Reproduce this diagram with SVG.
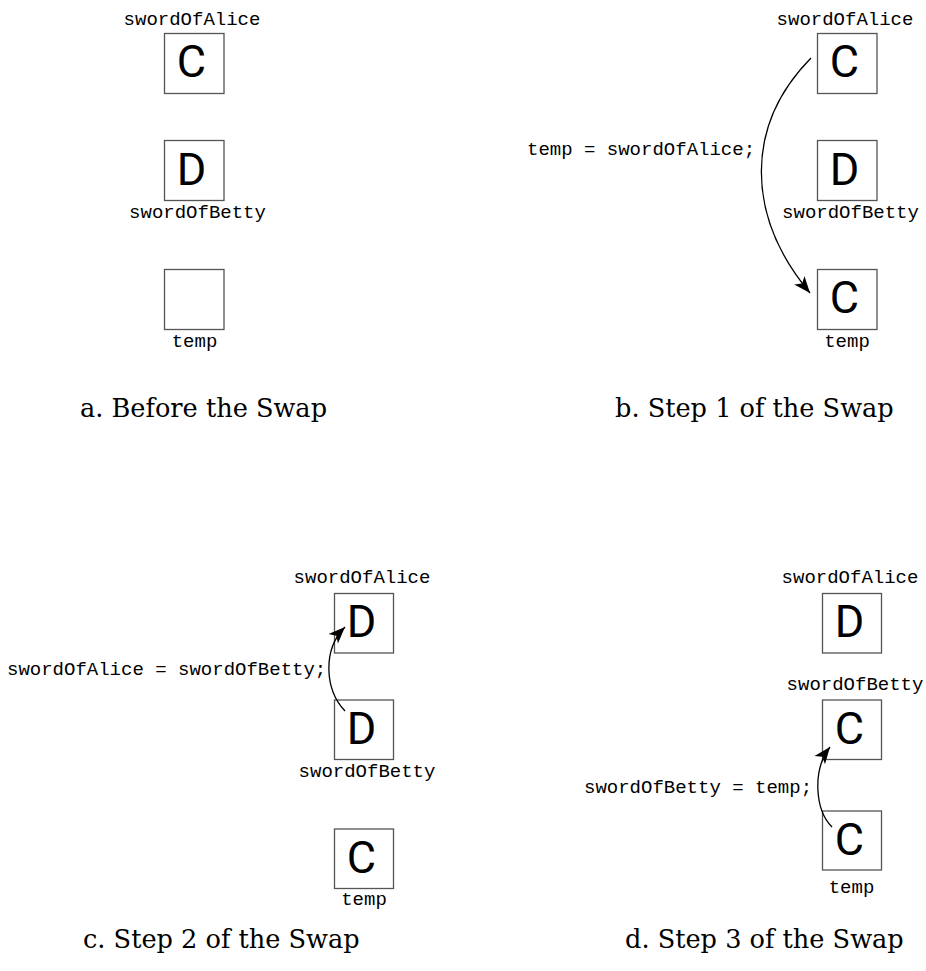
<svg xmlns="http://www.w3.org/2000/svg" width="926" height="971" viewBox="0 0 926 971">
<style>
.box{fill:#fff;stroke:#555;stroke-width:1.3}
.val{font-family:Roboto,"DejaVu Sans",sans-serif;font-size:45px;fill:#000;text-anchor:middle}
.lbl{font-family:"Liberation Mono",monospace;font-size:19px;fill:#000;text-anchor:middle}
.code{font-family:"Liberation Mono",monospace;font-size:19px;fill:#000}
.cap{font-family:"DejaVu Serif",serif;font-size:25.6px;fill:#000}
.arr{fill:none;stroke:#000;stroke-width:1.3;marker-end:url(#ah)}
</style>
<defs>
<marker id="ah" markerUnits="userSpaceOnUse" markerWidth="20" markerHeight="20" viewBox="-16 -8 18 16" refX="0" refY="0" orient="auto">
<path d="M0,0 L-15,-6 L-11,0 L-15,6 Z" fill="#000"/>
</marker>
</defs>
<rect width="926" height="971" fill="#fff"/>

<!-- Panel a -->
<g id="a-alice"><rect class="box" x="164.5" y="33.5" width="59.5" height="60"/><text class="val" x="191.5" y="76.5">C</text><text class="lbl" x="192" y="25">swordOfAlice</text></g>
<g id="a-betty"><rect class="box" x="164.5" y="140.5" width="59.5" height="60"/><text class="val" x="191.5" y="185">D</text><text class="lbl" x="197.5" y="218">swordOfBetty</text></g>
<g id="a-temp"><rect class="box" x="164.5" y="269.5" width="59.5" height="60"/><text class="lbl" x="194.5" y="347">temp</text></g>
<text class="cap" x="80" y="417">a. Before the Swap</text>

<!-- Panel b -->
<g id="b-alice"><rect class="box" x="817.5" y="33.5" width="59.5" height="60"/><text class="val" x="844.5" y="76.5">C</text><text class="lbl" x="845" y="25">swordOfAlice</text></g>
<g id="b-betty"><rect class="box" x="817.5" y="140.5" width="59.5" height="60"/><text class="val" x="844.5" y="185">D</text><text class="lbl" x="850.5" y="218">swordOfBetty</text></g>
<g id="b-temp"><rect class="box" x="817.5" y="269.5" width="59.5" height="60"/><text class="val" x="844.5" y="312.5">C</text><text class="lbl" x="847" y="347">temp</text></g>
<text class="code" x="527" y="155">temp = swordOfAlice;</text>
<text class="cap" x="615" y="417">b. Step 1 of the Swap</text>

<!-- Panel c -->
<g id="c-alice"><rect class="box" x="334.5" y="593.5" width="59" height="59.5"/><text class="val" x="361.5" y="637">D</text><text class="lbl" x="362" y="583">swordOfAlice</text></g>
<g id="c-betty"><rect class="box" x="334.5" y="700" width="59" height="59.5"/><text class="val" x="361.5" y="744">D</text><text class="lbl" x="367" y="777">swordOfBetty</text></g>
<g id="c-temp"><rect class="box" x="334.5" y="829" width="59" height="59.5"/><text class="val" x="361.5" y="873">C</text><text class="lbl" x="364" y="905">temp</text></g>
<text class="code" x="7" y="675">swordOfAlice = swordOfBetty;</text>
<text class="cap" x="83" y="948">c. Step 2 of the Swap</text>

<!-- Panel d -->
<g id="d-alice"><rect class="box" x="822.5" y="593.5" width="59" height="59.5"/><text class="val" x="849.5" y="637">D</text><text class="lbl" x="850" y="583">swordOfAlice</text></g>
<g id="d-betty"><rect class="box" x="822.5" y="700" width="59" height="59.5"/><text class="val" x="849.5" y="744">C</text><text class="lbl" x="855" y="690">swordOfBetty</text></g>
<g id="d-temp"><rect class="box" x="822.5" y="811" width="59" height="59"/><text class="val" x="849.5" y="854.5">C</text><text class="lbl" x="851.5" y="893">temp</text></g>
<text class="code" x="584" y="793">swordOfBetty = temp;</text>
<text class="cap" x="625" y="948">d. Step 3 of the Swap</text>

<g id="connectors">
<path class="arr" d="M811,58 C745,125 745,215 810,293"/>
<path class="arr" d="M345,711 C325,690 322,650 345,627"/>
<path class="arr" d="M832,827 C815,810 812,770 830,747"/>
</g>
</svg>
